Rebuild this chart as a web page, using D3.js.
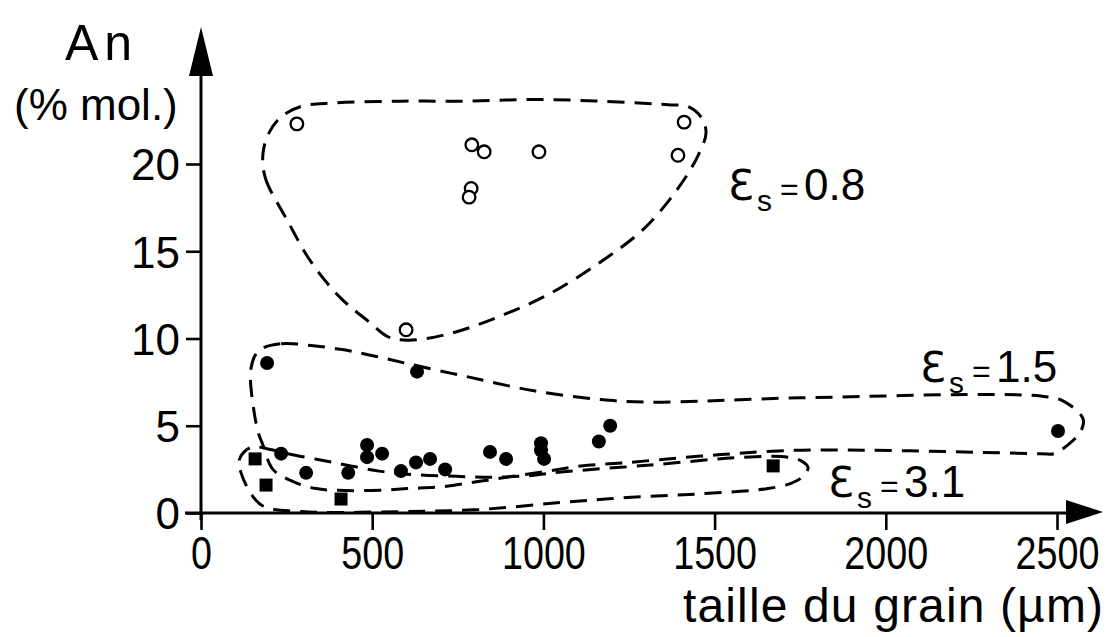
<!DOCTYPE html>
<html>
<head>
<meta charset="utf-8">
<script src="https://cdn.jsdelivr.net/npm/d3@7"></script>
<style>
  body { margin: 0; background: #fff; }
  svg { display: block; }
  text { font-family: "Liberation Sans", Arial, sans-serif; fill: #000; }
</style>
</head>
<body>
<svg id="chart" width="1111" height="637"></svg>
<script>
// Grain size (µm) vs anorthite content (% mol.)
const xTicks = [0, 500, 1000, 1500, 2000, 2500];
const yTicks = [0, 5, 10, 15, 20];

// εs = 0.8 : open circles
const openX = [280, 791, 827, 987, 1411, 1393, 789, 783, 599];
const openY = [22.3, 21.1, 20.7, 20.7, 22.4, 20.5, 18.6, 18.1, 10.5];

// εs = 1.5 : filled circles
const dotX = [193, 631, 234, 307, 430, 485, 485, 529, 584, 628, 669, 713, 844, 891, 993, 993, 1002, 1162, 1195, 2503];
const dotY = [8.6, 8.1, 3.4, 2.3, 2.3, 3.9, 3.2, 3.4, 2.4, 2.9, 3.1, 2.5, 3.5, 3.1, 4.0, 3.6, 3.1, 4.1, 5.0, 4.7];

// εs = 3.1 : filled squares
const sqX = [158, 190, 409, 1671];
const sqY = [3.1, 1.6, 0.8, 2.7];

// hand-drawn group envelopes, [grain size, An]
const envelope08 = [
  [181, 20.6], [188, 19.2], [254, 16.7], [321, 14.4], [409, 12.3],
  [488, 11.0], [546, 10.1], [605, 9.9], [730, 10.3], [876, 11.3], [1022, 12.6],
  [1168, 14.4], [1294, 16.3], [1393, 18.6], [1452, 20.5], [1475, 21.8], [1460, 22.7],
  [1422, 23.3], [1364, 23.4], [1168, 23.6], [973, 23.7], [780, 23.6], [584, 23.6],
  [388, 23.5], [292, 23.3], [234, 22.7], [199, 21.8]
];
const envelope15 = [
  [169, 9.3], [234, 9.7], [321, 9.6], [418, 9.35], [505, 9.0], [605, 8.55],
  [780, 7.8], [973, 7.0], [1168, 6.5], [1306, 6.35], [1752, 6.6], [2453, 6.7],
  [2520, 6.4], [2576, 5.4], [2570, 4.7], [2532, 3.9], [2491, 3.4], [2453, 3.4],
  [1752, 3.6], [1460, 3.26], [1227, 2.86], [1110, 2.7], [1013, 2.4], [911, 2.1],
  [809, 1.8], [701, 1.5], [605, 1.4], [520, 1.3], [394, 1.3], [336, 1.4],
  [269, 1.8], [210, 2.5], [181, 3.9], [169, 4.5], [155, 5.8], [146, 8.3]
];
const envelope31 = [
  [190, 3.7], [254, 3.4], [386, 2.9], [520, 2.4], [622, 2.2], [745, 2.1],
  [853, 2.05], [964, 2.15], [1051, 2.35], [1314, 2.75], [1586, 3.2], [1714, 3.2],
  [1752, 3.0], [1773, 2.6], [1752, 2.0], [1723, 1.7], [1656, 1.4], [1460, 1.1],
  [1256, 0.9], [1051, 0.6], [812, 0.2], [584, 0.08], [292, 0.08], [181, 0.4],
  [146, 1.1], [117, 2.3], [111, 3.0], [126, 3.5], [152, 3.8]
];

const svg = d3.select("#chart");
const x = d3.scaleLinear().domain([0, 2500]).range([201, 1057]);
const y = d3.scaleLinear().domain([0, 20]).range([513, 164]);

// envelopes
const outline = d3.line()
  .x(d => x(d[0])).y(d => y(d[1]))
  .curve(d3.curveCatmullRomClosed.alpha(0.5));
svg.append("g")
  .selectAll("path")
  .data([envelope08, envelope15, envelope31])
  .join("path")
  .attr("d", outline)
  .attr("fill", "none")
  .attr("stroke", "#000")
  .attr("stroke-width", 3)
  .attr("stroke-dasharray", "17 10");

// markers
const open = openX.map((v, i) => ({ x: v, y: openY[i] }));
const dots = dotX.map((v, i) => ({ x: v, y: dotY[i] }));
const squares = sqX.map((v, i) => ({ x: v, y: sqY[i] }));

svg.append("g").selectAll("circle").data(open).join("circle")
  .attr("cx", d => x(d.x)).attr("cy", d => y(d.y)).attr("r", 6.3)
  .attr("fill", "#fff").attr("stroke", "#000").attr("stroke-width", 2.3);

svg.append("g").selectAll("circle").data(dots).join("circle")
  .attr("cx", d => x(d.x)).attr("cy", d => y(d.y)).attr("r", 7)
  .attr("fill", "#000");

svg.append("g").selectAll("rect").data(squares).join("rect")
  .attr("x", d => x(d.x) - 6.5).attr("y", d => y(d.y) - 6.5)
  .attr("width", 13).attr("height", 13)
  .attr("fill", "#000");

// axes
const yAxis = svg.append("g")
  .attr("transform", `translate(${x(0)},0)`)
  .call(d3.axisLeft(y).tickValues(yTicks).tickSize(15).tickSizeOuter(0).tickFormat(d3.format("d")));
yAxis.select(".domain").remove();
yAxis.selectAll(".tick line").attr("stroke", "#000").attr("stroke-width", 2.6);
yAxis.selectAll(".tick text")
  .attr("x", -21).attr("dy", "0.36em")
  .attr("font-size", 44)
  .attr("font-family", "Liberation Sans, Arial, sans-serif")
  .attr("fill", "#000");

const xAxis = svg.append("g")
  .attr("transform", `translate(0,${y(0)})`)
  .call(d3.axisBottom(x).tickValues(xTicks).tickSize(17).tickSizeOuter(0).tickFormat(d3.format("d")));
xAxis.select(".domain").remove();
xAxis.selectAll(".tick line").attr("stroke", "#000").attr("stroke-width", 2.6);
xAxis.selectAll(".tick text")
  .attr("y", 0).attr("dy", null)
  .attr("transform", "translate(0,56) scale(0.82,1)")
  .attr("font-size", 46)
  .attr("font-family", "Liberation Sans, Arial, sans-serif")
  .attr("fill", "#000");

// axis lines with arrowheads
svg.append("line")
  .attr("x1", x(0)).attr("x2", x(0))
  .attr("y1", y(0) + 7).attr("y2", 70)
  .attr("stroke", "#000").attr("stroke-width", 3);
svg.append("path")
  .attr("d", `M${x(0)},27 L${x(0) - 12},76 L${x(0) + 12},76 Z`)
  .attr("fill", "#000");
svg.append("line")
  .attr("x1", x(0) - 16).attr("x2", 1072)
  .attr("y1", y(0)).attr("y2", y(0))
  .attr("stroke", "#000").attr("stroke-width", 3);
svg.append("path")
  .attr("d", `M1103,${y(0) - 1} L1066,${y(0) - 13} L1066,${y(0) + 11} Z`)
  .attr("fill", "#000");

// axis titles
svg.append("text")
  .attr("x", 65).attr("y", 60)
  .attr("font-size", 50)
  .attr("letter-spacing", 6)
  .text("An");
svg.append("text")
  .attr("x", 14).attr("y", 120)
  .attr("font-size", 44)
  .text("(% mol.)");
svg.append("text")
  .attr("x", 683).attr("y", 622)
  .attr("font-size", 48)
  .attr("textLength", 420)
  .attr("lengthAdjust", "spacing")
  .text("taille du grain (µm)");

// strain labels
const strainLabels = [
  { value: "0.8", x: 728, y: 200 },
  { value: "1.5", x: 920, y: 382 },
  { value: "3.1", x: 828, y: 497 }
];
strainLabels.forEach(l => {
  const t = svg.append("text").attr("y", l.y);
  t.append("tspan").attr("x", l.x).attr("font-size", 42)
    .attr("font-family", "DejaVu Sans, Liberation Sans, sans-serif").text("Ɛ");
  t.append("tspan").attr("x", l.x + 29).attr("dy", 11).attr("font-size", 30).text("s");
  t.append("tspan").attr("x", l.x + 52).attr("dy", -11).attr("font-size", 32).text("=");
  t.append("tspan").attr("x", l.x + 76).attr("font-size", 44).text(l.value);
});
</script>
</body>
</html>
